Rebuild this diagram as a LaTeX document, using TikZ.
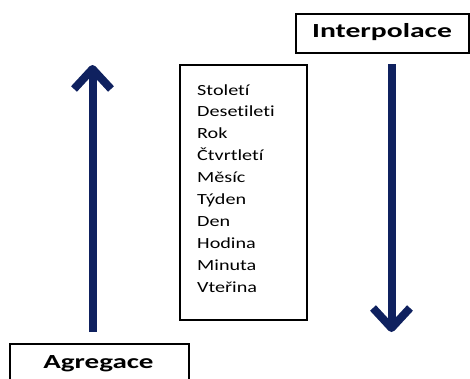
\documentclass[tikz,border=0pt]{standalone}
\usepackage{fontspec}
\setmainfont{Carlito}[Ligatures={NoCommon}]
\definecolor{navy}{RGB}{15,33,95}
\begin{document}
\begin{tikzpicture}[x=1pt,y=-1pt,
  box/.style={draw=black,line width=2pt,inner sep=0pt},
  arr/.style={draw=navy,line width=8pt,line join=round},
  lbl/.style={font=\bfseries\fontsize{20}{24}\selectfont,inner sep=0pt,anchor=base},
  item/.style={font=\fontsize{15.5}{18}\selectfont,inner sep=0pt,anchor=base west}]
\useasboundingbox (0,0) rectangle (470,378);
\begin{scope}
\clip (0,0) rectangle (470,378);
% boxes
\node[box,anchor=north west,minimum width=179pt,minimum height=50pt] (agbox) at (9,343) {};
\node[lbl] (ag) at (98.5,368) {\scalebox{1.45}[1]{Agregace}};
\node[box,anchor=north west,minimum width=173pt,minimum height=39pt] (inbox) at (295,13) {};
\node[lbl] (in) at (382,37.5) {\scalebox{1.48}[1]{Interpolace}};
\node[box,anchor=north west,minimum width=127pt,minimum height=255pt] (list) at (179,64) {};
\foreach \t [count=\i] in {Století,Desetileti,Rok,Čtvrtletí,Měsíc,Týden,Den,Hodina,Minuta,Vteřina}
  \node[item] (item\i) at (197,{95+(\i-1)*21.9}) {\scalebox{1.3}[1]{\t}};
% arrows
\coordinate (a1) at (92.5,332);
\coordinate (a2) at (92.5,69);
\draw[arr] (a1) -- (a2);
\draw[arr] (74,89) -- (a2) -- (111,89);
\coordinate (b1) at (391.5,64);
\coordinate (b2) at (391.5,328);
\draw[arr] (b1) -- (b2);
\draw[arr] (373,308) -- (b2) -- (410,308);
\end{scope}
\end{tikzpicture}
\end{document}
